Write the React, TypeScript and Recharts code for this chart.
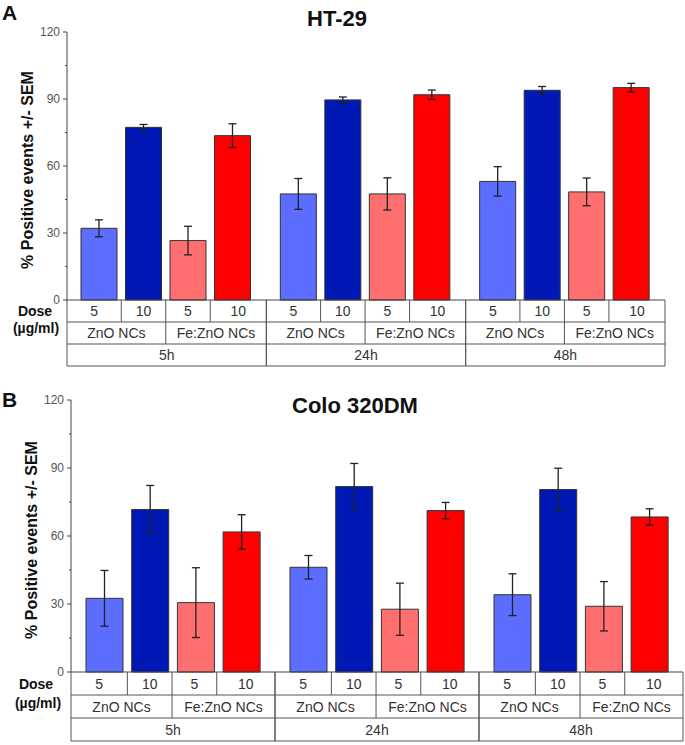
import React from "react";
import { BarChart, Bar, XAxis, YAxis, ErrorBar } from "recharts";

const timePoints = ["5h", "24h", "48h"];
const materials = ["ZnO NCs", "Fe:ZnO NCs"];
const doses = ["5", "10", "5", "10"];
const yTicks = [0, 15, 30, 45, 60, 75, 90, 105, 120];

// HT-29
const htZno5 = [32.1, 47.5, 53.1];
const htZno5Err = [3.8, 6.9, 6.6];
const htZno10 = [77.3, 89.6, 93.9];
const htZno10Err = [1.3, 1.3, 1.7];
const htFe5 = [26.6, 47.5, 48.4];
const htFe5Err = [6.4, 7.2, 6.2];
const htFe10 = [73.6, 91.9, 95.1];
const htFe10Err = [5.3, 2.1, 1.9];

// Colo 320DM
const coloZno5 = [32.5, 46.2, 34.1];
const coloZno5Err = [12.3, 5.2, 9.2];
const coloZno10 = [71.7, 81.8, 80.5];
const coloZno10Err = [10.6, 10.2, 9.4];
const coloFe5 = [30.6, 27.7, 29.0];
const coloFe5Err = [15.4, 11.5, 10.9];
const coloFe10 = [61.8, 71.2, 68.4];
const coloFe10Err = [7.6, 3.6, 3.6];

const series = [
  { key: "zno5", color: "#5c6eff" },
  { key: "zno10", color: "#0019b4" },
  { key: "fe5", color: "#ff6f6f" },
  { key: "fe10", color: "#ff0000" },
];

const FONT = "'Liberation Sans', Arial, sans-serif";

function buildRows(z5: number[], z5e: number[], z10: number[], z10e: number[], f5: number[], f5e: number[], f10: number[], f10e: number[]) {
  return timePoints.map((t, i) => ({
    time: t,
    zno5: z5[i], zno5Err: z5e[i],
    zno10: z10[i], zno10Err: z10e[i],
    fe5: f5[i], fe5Err: f5e[i],
    fe10: f10[i], fe10Err: f10e[i],
  }));
}

const htData = buildRows(htZno5, htZno5Err, htZno10, htZno10Err, htFe5, htFe5Err, htFe10, htFe10Err);
const coloData = buildRows(coloZno5, coloZno5Err, coloZno10, coloZno10Err, coloFe5, coloFe5Err, coloFe10, coloFe10Err);

function YTick(props: any) {
  const { x, y, payload } = props;
  const major = payload.value % 30 === 0;
  return (
    <g>
      <line x1={x - (major ? 4 : 2)} x2={x} y1={y} y2={y} stroke="#444" strokeWidth={1} />
      {major && (
        <text x={x - 7} y={y} dy={4} textAnchor="end" fontSize={12} fill="#555" fontFamily={FONT}>
          {payload.value}
        </text>
      )}
    </g>
  );
}

function makeGroupTick(band: number, gap: number, bgap: number, rowH: number) {
  return function GroupTick(props: any) {
    const { x, y, payload } = props;
    const L = x - band / 2;
    const R = x + band / 2;
    const size = Math.floor((band - 2 * gap - 3 * bgap) / 4);
    const total = 4 * size + 3 * bgap;
    const start = L + Math.floor((band - total) / 2);
    const mids = [1, 2, 3].map((i) => start + i * (size + bgap) - bgap / 2);
    const edges = [L, ...mids, R];
    const stroke = "#555";
    const txt = { fontSize: 14, fill: "#333", fontFamily: FONT, textAnchor: "middle" as const };
    return (
      <g>
        <line x1={L} x2={L} y1={y} y2={y + 3 * rowH} stroke={stroke} />
        <line x1={R} x2={R} y1={y} y2={y + 3 * rowH} stroke={stroke} />
        {[1, 2, 3].map((r) => (
          <line key={r} x1={L} x2={R} y1={y + r * rowH} y2={y + r * rowH} stroke={stroke} />
        ))}
        {mids.map((m, i) => (
          <line key={"m" + i} x1={m} x2={m} y1={y} y2={y + rowH} stroke={stroke} />
        ))}
        <line x1={mids[1]} x2={mids[1]} y1={y + rowH} y2={y + 2 * rowH} stroke={stroke} />
        {doses.map((d, i) => (
          <text key={"d" + i} x={(edges[i] + edges[i + 1]) / 2} y={y + rowH / 2 + 5} {...txt}>
            {d}
          </text>
        ))}
        {materials.map((m, i) => (
          <text key={"t" + i} x={i === 0 ? (L + mids[1]) / 2 : (mids[1] + R) / 2} y={y + rowH * 1.5 + 5} {...txt}>
            {m}
          </text>
        ))}
        <text x={x} y={y + rowH * 2.5 + 5} {...txt}>
          {payload.value}
        </text>
      </g>
    );
  };
}

function Panel(props: {
  data: any[];
  marginLeft: number;
  marginRight: number;
  marginTop: number;
  marginBottom: number;
  xHeight: number;
  gap: number;
  bgap: number;
  rowH: number;
  plotWidth: number;
}) {
  const { data, marginLeft, marginRight, marginTop, marginBottom, xHeight, gap, bgap, rowH, plotWidth } = props;
  const Tick = makeGroupTick(plotWidth / 3, gap, bgap, rowH);
  return (
    <BarChart
      width={685}
      height={375}
      data={data}
      margin={{ top: marginTop, right: marginRight, bottom: marginBottom, left: marginLeft }}
      barCategoryGap={gap}
      barGap={bgap}
    >
      <XAxis
        dataKey="time"
        interval={0}
        height={xHeight}
        tickLine={false}
        tickSize={0}
        tickMargin={0}
        axisLine={{ stroke: "#444" }}
        tick={<Tick />}
      />
      <YAxis
        width={40}
        domain={[0, 120]}
        ticks={yTicks}
        interval={0}
        tickLine={false}
        tickSize={0}
        tickMargin={0}
        axisLine={{ stroke: "#444" }}
        tick={<YTick />}
      />
      {series.map((s) => (
        <Bar key={s.key} dataKey={s.key} fill={s.color} stroke="#333" strokeWidth={1} isAnimationActive={false}>
          <ErrorBar dataKey={s.key + "Err"} width={4} stroke="#222" strokeWidth={1.3} />
        </Bar>
      ))}
    </BarChart>
  );
}

const boldText = { fontFamily: FONT, fontWeight: 700, fill: "#111" };

export default function App() {
  return (
    <div style={{ position: "absolute", left: 0, top: 0, width: 685, height: 745, background: "#fff", overflow: "hidden" }}>
      <div style={{ position: "absolute", left: 0, top: 0 }}>
        <Panel data={htData} marginLeft={27} marginRight={20} marginTop={32} marginBottom={8} xHeight={67} gap={14} bgap={8.5} rowH={22} plotWidth={598} />
      </div>
      <div style={{ position: "absolute", left: 0, top: 370 }}>
        <Panel data={coloData} marginLeft={31} marginRight={2} marginTop={30} marginBottom={4} xHeight={69} gap={15} bgap={8.7} rowH={23} plotWidth={612} />
      </div>
      <svg width={685} height={745} style={{ position: "absolute", left: 0, top: 0, pointerEvents: "none" }}>
        <text x={2} y={20} fontSize={21} {...boldText}>A</text>
        <text x={337} y={26} fontSize={22} textAnchor="middle" {...boldText}>HT-29</text>
        <text transform="translate(33,170) rotate(-90)" fontSize={16} textAnchor="middle" {...boldText}>
          % Positive events +/- SEM
        </text>
        <text x={35} y={316} fontSize={14} textAnchor="middle" {...boldText}>Dose</text>
        <text x={36} y={333} fontSize={14} textAnchor="middle" {...boldText}>(µg/ml)</text>

        <text x={2} y={407} fontSize={21} {...boldText}>B</text>
        <text x={355} y={413} fontSize={22} textAnchor="middle" {...boldText}>Colo 320DM</text>
        <text transform="translate(37,540) rotate(-90)" fontSize={16} textAnchor="middle" {...boldText}>
          % Positive events +/- SEM
        </text>
        <text x={36} y={689} fontSize={14} textAnchor="middle" {...boldText}>Dose</text>
        <text x={38} y={708} fontSize={14} textAnchor="middle" {...boldText}>(µg/ml)</text>
      </svg>
    </div>
  );
}
